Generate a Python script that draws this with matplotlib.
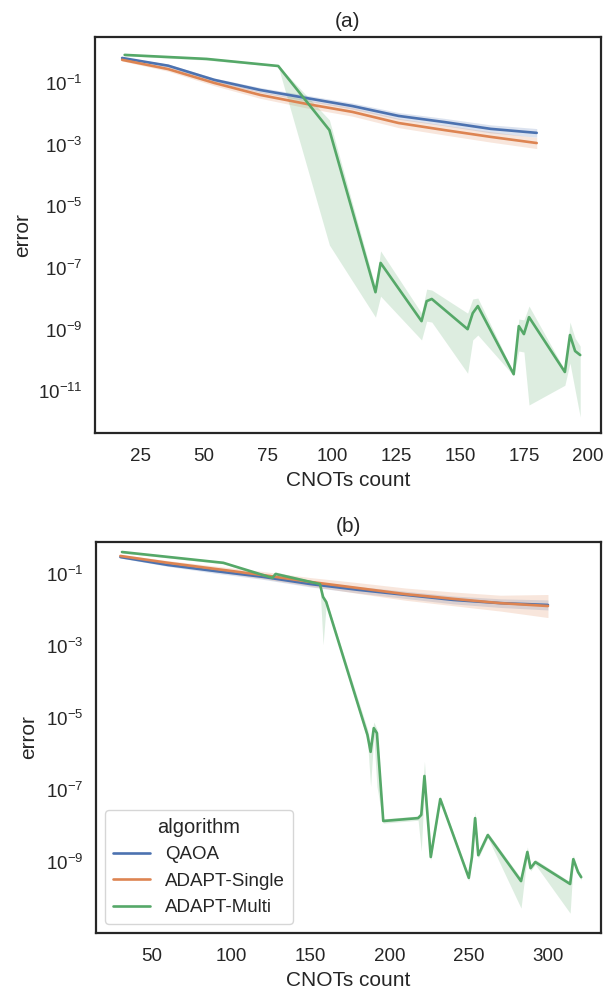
import matplotlib
matplotlib.use("Agg")
import matplotlib.pyplot as plt
import numpy as np
import seaborn as sns

# panel (a): log10(error)
qaoa_a_x = [18, 36, 54, 72, 90, 108, 126, 144, 162, 180]
qaoa_a = [-0.19, -0.44, -0.90, -1.23, -1.49, -1.75, -2.07, -2.27, -2.49, -2.62]
qaoa_a_lo = [-0.22, -0.49, -0.96, -1.31, -1.58, -1.85, -2.18, -2.39, -2.62, -2.76]
qaoa_a_hi = [-0.16, -0.39, -0.84, -1.15, -1.40, -1.65, -1.96, -2.15, -2.36, -2.48]

single_a_x = [18, 36, 54, 72, 90, 108, 126, 144, 162, 180]
single_a = [-0.25, -0.55, -1.00, -1.39, -1.68, -1.94, -2.30, -2.53, -2.75, -2.95]
single_a_lo = [-0.29, -0.62, -1.09, -1.50, -1.81, -2.08, -2.45, -2.69, -2.92, -3.13]
single_a_hi = [-0.21, -0.48, -0.91, -1.28, -1.55, -1.80, -2.15, -2.37, -2.58, -2.77]

multi_a_x = [19, 51, 79, 99, 117, 119, 135, 137, 139, 153, 155, 157, 171, 173, 175, 177,
             191, 193, 195, 197]
multi_a = [-0.09, -0.22, -0.45, -2.53, -7.79, -6.84, -8.73, -8.08, -8.01, -8.99, -8.47, -8.24,
           -10.45, -8.89, -9.15, -8.60, -10.38, -9.18, -9.70, -9.83]
multi_a_lo = [-0.12, -0.26, -0.47, -6.26, -8.60, -7.92, -9.34, -8.73, -8.76, -10.42, -9.34, -9.18,
              -10.50, -9.70, -9.73, -11.45, -10.81, -10.09, -10.97, -11.84]
multi_a_hi = [-0.06, -0.18, -0.43, -2.20, -7.62, -6.45, -8.47, -7.69, -7.72, -8.47, -8.01, -7.98,
              -10.40, -8.66, -8.69, -8.24, -10.32, -8.76, -9.28, -9.54]

# panel (b)
qaoa_b_x = [30, 60, 90, 120, 150, 180, 210, 240, 270, 300]
qaoa_b = [-0.53, -0.75, -0.92, -1.08, -1.28, -1.44, -1.58, -1.72, -1.81, -1.86]
qaoa_b_lo = [-0.56, -0.79, -0.98, -1.15, -1.36, -1.53, -1.68, -1.83, -1.93, -2.00]
qaoa_b_hi = [-0.50, -0.71, -0.86, -1.01, -1.20, -1.35, -1.48, -1.61, -1.69, -1.72]

single_b_x = [30, 60, 90, 120, 150, 180, 210, 240, 270, 300]
single_b = [-0.50, -0.69, -0.86, -1.03, -1.22, -1.39, -1.56, -1.69, -1.81, -1.89]
single_b_lo = [-0.54, -0.75, -0.94, -1.13, -1.34, -1.54, -1.73, -1.88, -2.03, -2.21]
single_b_hi = [-0.46, -0.63, -0.78, -0.93, -1.10, -1.24, -1.39, -1.50, -1.59, -1.57]

multi_b_x = [31, 95, 126, 128, 156, 158, 160, 186, 188, 190, 192, 196, 218, 220, 222, 226, 232,
             250, 252, 254, 256, 262, 283, 287, 289, 292, 314, 316, 319, 321]
multi_b = [-0.39, -0.69, -1.11, -1.00, -1.28, -1.64, -1.78, -5.47, -5.94, -5.28, -5.42, -7.86,
           -7.78, -7.69, -6.61, -8.86, -7.25, -9.44, -8.86, -7.78, -8.81, -8.25, -9.53, -8.72,
           -9.17, -9.00, -9.61, -8.92, -9.28, -9.42]
multi_b_lo = [-0.42, -0.72, -1.14, -1.04, -1.31, -2.97, -1.84, -5.60, -6.90, -5.50, -6.90, -7.92,
              -7.84, -8.70, -6.90, -8.95, -7.32, -9.52, -8.95, -8.00, -8.90, -8.32, -10.28, -8.80,
              -9.25, -9.07, -10.42, -9.00, -9.35, -9.50]
multi_b_hi = [-0.36, -0.66, -1.08, -0.94, -1.25, -1.58, -1.72, -5.30, -5.70, -5.11, -5.30, -7.80,
              -7.72, -7.55, -6.20, -8.78, -7.18, -9.36, -8.78, -7.60, -8.72, -8.18, -9.45, -8.58,
              -9.10, -8.93, -9.55, -8.81, -9.20, -9.35]

labels = ["QAOA", "ADAPT-Single", "ADAPT-Multi"]
yticks_a = [1e-1, 1e-3, 1e-5, 1e-7, 1e-9, 1e-11]
yticks_b = [1e-1, 1e-3, 1e-5, 1e-7, 1e-9]

sns.set_theme(style="white", palette="deep")
plt.rcParams["font.family"] = ["Liberation Sans", "DejaVu Sans"]
plt.rcParams["mathtext.default"] = "regular"
colors = sns.color_palette("deep")


def draw(ax, series, xlim, ylim, yticks, xticks, title, ylabelpad):
    for (x, m, lo, hi), label, color in zip(series, labels, colors):
        x = np.asarray(x)
        ax.fill_between(x, 10.0 ** np.asarray(lo), 10.0 ** np.asarray(hi),
                        color=color, alpha=0.2, linewidth=0)
        ax.plot(x, 10.0 ** np.asarray(m), color=color, lw=1.9, label=label)
    ax.set_yscale("log")
    ax.set_xlim(*xlim)
    ax.set_ylim(10.0 ** ylim[0], 10.0 ** ylim[1])
    ax.set_yticks(yticks)
    ax.yaxis.set_minor_locator(matplotlib.ticker.NullLocator())
    ax.set_xticks(xticks)
    ax.tick_params(axis="x", length=0, labelsize=13.5, pad=11)
    ax.tick_params(axis="y", length=0, labelsize=13.5, pad=9)
    ax.set_xlabel("CNOTs count", fontsize=15, labelpad=4)
    ax.set_ylabel("error", fontsize=15, labelpad=ylabelpad)
    ax.set_title(title, fontsize=15, pad=7)
    for spine in ax.spines.values():
        spine.set_linewidth(1.6)
        spine.set_edgecolor("0.15")


fig = plt.figure(figsize=(6.03, 9.9), dpi=100)
ax_a = fig.add_axes([0.1575, 0.5626, 0.8391, 0.400])
ax_b = fig.add_axes([0.1592, 0.0576, 0.8375, 0.395])

draw(ax_a,
     [(qaoa_a_x, qaoa_a, qaoa_a_lo, qaoa_a_hi),
      (single_a_x, single_a, single_a_lo, single_a_hi),
      (multi_a_x, multi_a, multi_a_lo, multi_a_hi)],
     (7.4, 205.1), (-12.36, 0.49), yticks_a, [25, 50, 75, 100, 125, 150, 175, 200], "(a)", 4)

draw(ax_b,
     [(qaoa_b_x, qaoa_b, qaoa_b_lo, qaoa_b_hi),
      (single_b_x, single_b, single_b_lo, single_b_hi),
      (multi_b_x, multi_b, multi_b_lo, multi_b_hi)],
     (14.6, 333.5), (-10.97, -0.11), yticks_b, [50, 100, 150, 200, 250, 300], "(b)", 6)

leg = ax_b.legend(title="algorithm", loc="lower left", fontsize=13.5, title_fontsize=14.5,
                  frameon=True, borderaxespad=0.5)
leg.get_frame().set_edgecolor("0.8")

fig.savefig("out.png", dpi=100)
